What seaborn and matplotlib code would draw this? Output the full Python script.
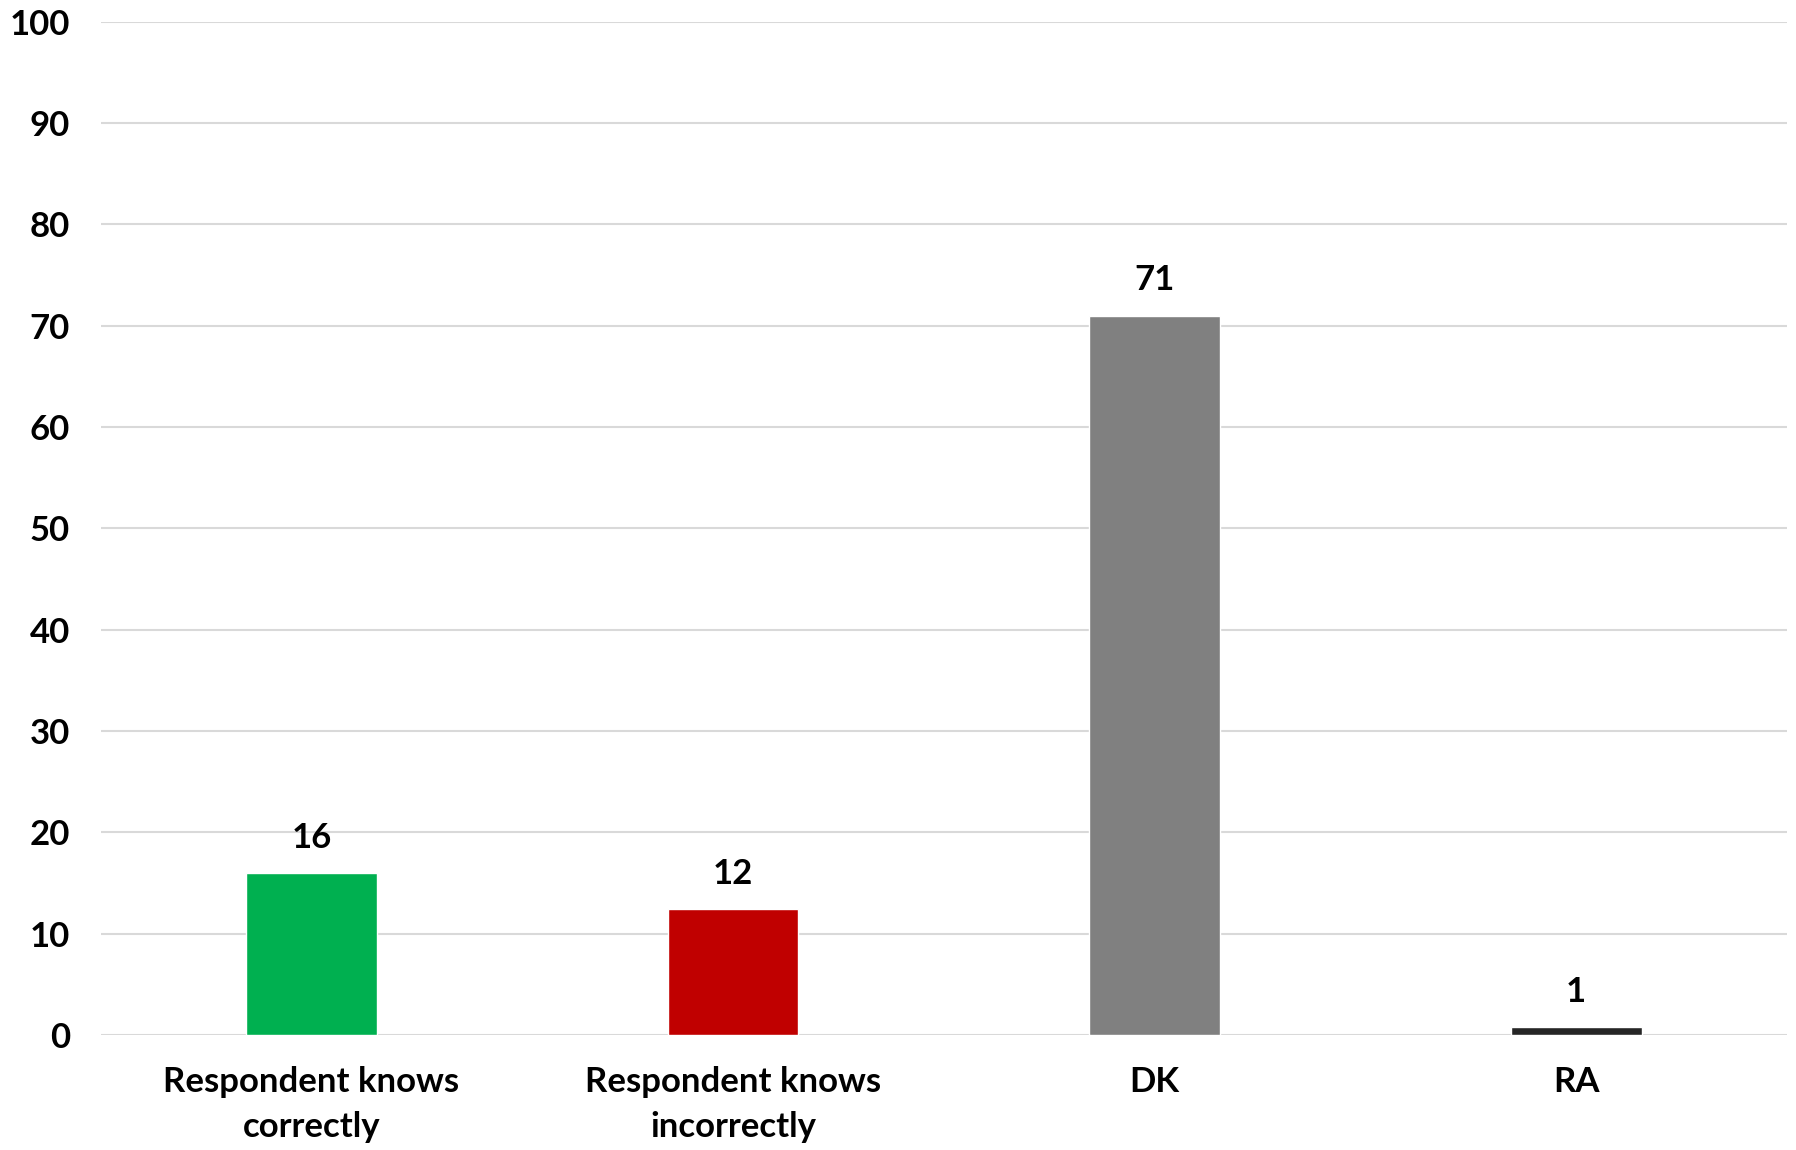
import matplotlib
matplotlib.use("Agg")
import matplotlib.pyplot as plt
import seaborn as sns
import pandas as pd

# chart values
categories = ["Respondent knows\ncorrectly", "Respondent knows\nincorrectly", "DK", "RA"]
values = [16.0, 12.4, 71.0, 0.8]
labels = ["16", "12", "71", "1"]
colors = ["#00B050", "#C00000", "#808080", "#262626"]
yticks = [0, 10, 20, 30, 40, 50, 60, 70, 80, 90, 100]

df = pd.DataFrame({"category": categories, "value": values})

sns.set_theme(style="white")
plt.rcParams["font.family"] = ["Lato", "DejaVu Sans"]

fig, ax = plt.subplots(figsize=(17.96, 11.5), dpi=100)
fig.subplots_adjust(left=0.056, right=0.995, top=0.981, bottom=0.1)

sns.barplot(data=df, x="category", y="value", hue="category", palette=colors,
            legend=False, width=0.31, ax=ax, zorder=3, saturation=1)

for i, (v, lab) in enumerate(zip(values, labels)):
    ax.text(i, v + 1.9, lab, ha="center", va="bottom", fontsize=25,
            fontweight="bold", color="black")

ax.set_ylim(0, 100)
ax.set_xlim(-0.5, 3.5)
ax.set_yticks(yticks)
ax.set_yticklabels([str(t) for t in yticks], fontsize=25, fontweight="bold")
ax.tick_params(axis="y", length=0, pad=22, colors="black")
ax.tick_params(axis="x", length=0, pad=22, labelsize=25, colors="black")
for t in ax.get_xticklabels():
    t.set_fontweight("bold")
    t.set_linespacing(1.5)
ax.set_xlabel("")
ax.set_ylabel("")
ax.grid(axis="y", color="#d9d9d9", linewidth=1.5, zorder=0)
for s in ax.spines.values():
    s.set_visible(False)

fig.savefig("out.png", dpi=100)
